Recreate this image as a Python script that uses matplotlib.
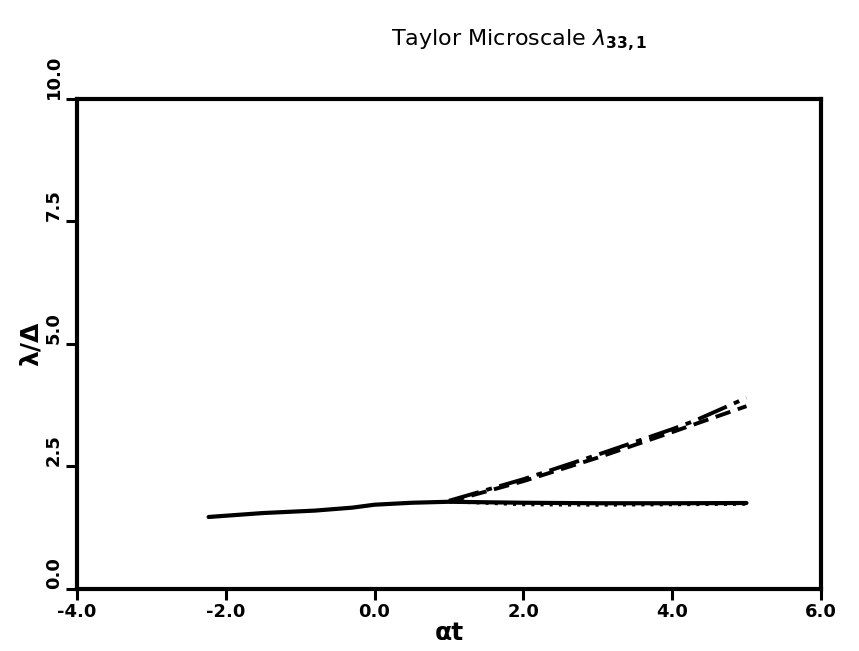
import matplotlib
matplotlib.use("Agg")
import matplotlib.pyplot as plt

# shared early part of the curves
t_early = [-2.23, -1.5, -0.8, -0.3, 0.0, 0.5, 1.0]
lam_early = [1.47, 1.55, 1.60, 1.66, 1.72, 1.76, 1.78]

# later part (alpha t >= 1)
t_flat = [1.0, 2.0, 3.0, 4.0, 5.0]
lam_solid = [1.78, 1.76, 1.75, 1.75, 1.755]
lam_dotted = [1.78, 1.72, 1.71, 1.72, 1.73]
t_rise = [1.0, 2.0, 3.0, 4.0, 4.3, 5.0]
lam_dashed = [1.78, 2.20, 2.68, 3.20, 3.36, 3.73]
lam_dashdot = [1.80, 2.24, 2.74, 3.26, 3.43, 3.90]

xticks = [-4.0, -2.0, 0.0, 2.0, 4.0, 6.0]
yticks = [0.0, 2.5, 5.0, 7.5, 10.0]

fig = plt.figure(figsize=(8.59, 6.51), dpi=100)
ax = fig.add_axes([0.0896, 0.0952, 0.866, 0.753])

ax.plot(t_early + t_flat[1:], lam_early + lam_solid[1:], color="black", lw=3.0, solid_capstyle="round")
ax.plot(t_flat, lam_dotted, color="black", lw=2.2, linestyle=(0, (1, 2)))
ax.plot(t_rise, lam_dashed, color="black", lw=2.8, linestyle=(0, (4, 2)))
ax.plot(t_rise, lam_dashdot, color="black", lw=2.8, linestyle=(0, (8, 2, 1.5, 2)))

ax.set_xlim(-4, 6)
ax.set_ylim(0, 10)
ax.set_xticks(xticks)
ax.set_yticks(yticks)
ax.set_xticklabels([f"{v:.1f}" for v in xticks], fontweight="bold", fontsize=13)
ax.set_yticklabels([f"{v:.1f}" for v in yticks], fontweight="bold", fontsize=13,
                   rotation=90, va="bottom")
ax.tick_params(direction="out", length=8, width=2.2, pad=2)

for s in ax.spines.values():
    s.set_linewidth(3)

ax.set_xlabel("αt", fontsize=18, fontweight="bold", labelpad=0)
ax.set_ylabel("λ/Δ", fontsize=18, fontweight="bold", labelpad=2)

fig.text(0.605, 0.938, r"Taylor Microscale $\lambda_{\mathbf{33,1}}$", fontsize=16,
         ha="center", va="center")

fig.savefig("out.png", dpi=100)
